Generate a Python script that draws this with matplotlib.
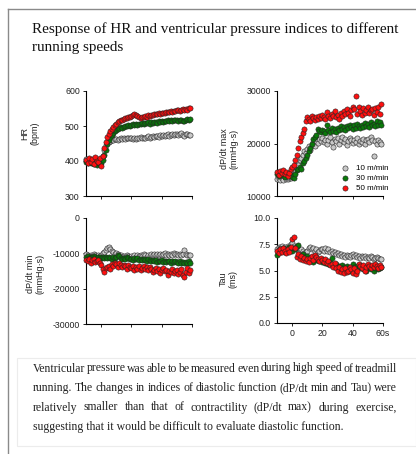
import matplotlib
matplotlib.use('Agg')
import matplotlib.pyplot as plt
import numpy as np
from matplotlib.patches import Rectangle
from matplotlib.lines import Line2D
from matplotlib.font_manager import FontProperties
from matplotlib.textpath import TextPath

# time axis (s), one sample per second
t = np.arange(-10, 60)

speeds = ['10m/min', '30m/min', '50m/min']
colors = ['#c8c8c8', '#0a7a0a', '#ff1010']

hr_10 = [405, 400, 398, 402, 396, 400, 404, 398, 401, 399,
         403, 415, 432, 445, 452, 455, 458, 460, 460, 462,
         463, 461, 464, 465, 463, 466, 464, 465, 467, 465,
         466, 464, 465, 463, 466, 465, 468, 466, 467, 465,
         468, 470, 467, 469, 471, 468, 470, 472, 469, 473,
         471, 474, 470, 473, 476, 472, 475, 477, 474, 478,
         476, 473, 477, 479, 475, 472, 478, 476, 474, 475]
hr_30 = [398, 395, 400, 393, 397, 392, 396, 390, 394, 392,
         395, 402, 418, 432, 448, 460, 468, 475, 480, 485,
         488, 490, 494, 496, 495, 498, 500, 499, 502, 501,
         503, 505, 502, 506, 504, 507, 505, 508, 506, 509,
         508, 510, 507, 511, 509, 512, 510, 508, 513, 511,
         514, 512, 515, 513, 516, 514, 517, 515, 518, 516,
         517, 514, 516, 518, 515, 513, 517, 519, 518, 521]
hr_50 = [402, 395, 410, 398, 405, 392, 412, 400, 396, 408,
         386, 415, 438, 455, 468, 478, 486, 492, 498, 503,
         507, 510, 513, 516, 518, 520, 522, 524, 525, 527,
         529, 531, 533, 530, 528, 526, 524, 527, 525, 528,
         527, 530, 529, 532, 531, 534, 533, 535, 536, 534,
         537, 538, 536, 540, 539, 541, 543, 540, 544, 542,
         545, 547, 544, 546, 548, 545, 549, 547, 550, 551]

dpmax_10 = [13200, 13500, 13000, 13400, 13100, 13600, 13300, 13200, 13500, 13400,
            13800, 14200, 14800, 15300, 16000, 16800, 17300, 17800, 18500, 18200,
            19000, 19500, 18700, 19800, 20300, 19600, 20500, 20100, 20800, 20400,
            21000, 20200, 20600, 19900, 20700, 21200, 20300, 19400, 20900, 20500,
            21100, 20000, 20600, 21300, 20200, 20800, 19700, 20400, 21000, 20600,
            20100, 20700, 20300, 21000, 19900, 20500, 20200, 20800, 20000, 20600,
            20900, 20300, 21200, 20700, 17700, 20400, 19900, 20600, 20300, 20000]
dpmax_30 = [14200, 13800, 14500, 14000, 14400, 13700, 14100, 14300, 13900, 14000,
            13600, 13400, 14200, 14900, 15200, 15600, 15100, 16200, 16700, 17300,
            17800, 18500, 19200, 20000, 20800, 21200, 21600, 22700, 22400, 22100,
            22600, 22300, 22000, 23600, 22500, 22200, 22900, 22400, 22700, 22100,
            23000, 22600, 23300, 22800, 23100, 22500, 23400, 22900, 23600, 23200,
            22700, 23500, 23000, 23800, 23300, 22900, 23600, 23100, 23900, 23400,
            23700, 23200, 24000, 23500, 23800, 23300, 24200, 23600, 24100, 23500]
dpmax_50 = [14500, 14000, 14800, 14300, 15000, 14200, 14600, 13900, 14400, 15100,
            15500, 16000, 16800, 17800, 19200, 20500, 21300, 22000, 22800, 24300,
            25000, 24600, 24300, 25200, 24800, 24400, 25000, 24600, 25300, 24900,
            25400, 25100, 24700, 26000, 25300, 24900, 25600, 25200, 26200, 25000,
            25500, 24700, 25800, 25300, 26100, 25600, 26500, 25900, 25200, 26300,
            27000, 26600, 29000, 25700, 26900, 26200, 25500, 26700, 25900, 26400,
            26900, 25800, 26300, 26600, 25400, 26800, 26000, 27000, 25600, 27500]

dpmin_10 = [-10200, -10500, -10800, -10400, -10700, -10300, -10600, -10900, -10500, -10700,
            -10400, -10000, -9600, -9000, -8600, -8300, -8800, -9200, -9700, -10200,
            -9800, -10300, -10600, -10400, -10900, -10700, -11000, -10600, -10800, -11100,
            -10700, -10900, -10500, -11000, -10600, -10800, -10400, -10700, -10300, -10500,
            -10900, -10400, -10700, -10200, -10600, -10300, -10500, -10100, -10400, -10200,
            -10600, -10300, -10000, -10400, -10100, -10500, -10200, -10400, -10000, -10300,
            -10200, -10500, -10100, -10400, -10300, -9000, -10200, -10500, -10400, -10600]
dpmin_30 = [-11000, -10800, -11200, -10900, -11100, -10800, -11000, -11300, -10900, -11100,
            -11200, -11000, -11300, -11100, -11400, -10900, -11200, -11500, -11100, -11300,
            -11000, -10600, -10800, -11200, -11500, -11300, -11600, -11100, -11400, -11700,
            -11500, -11800, -11300, -11600, -11400, -11900, -11700, -12000, -11600, -11800,
            -12100, -11700, -12000, -12300, -11900, -12200, -12000, -12400, -12100, -12300,
            -12000, -12400, -12200, -12500, -12300, -12100, -12600, -12300, -12500, -12200,
            -12400, -12700, -12300, -12600, -12400, -12800, -12500, -12700, -12300, -12600]
dpmin_50 = [-11800, -12300, -11500, -12600, -12000, -11700, -12400, -12200, -11900, -12800,
            -13300, -14500, -15400, -14200, -13800, -13600, -14300, -12900, -13500, -12600,
            -13100, -13900, -12800, -13400, -14000, -13200, -13700, -14500, -13300, -13800,
            -14200, -13500, -14600, -13900, -14300, -13700, -14800, -14100, -13600, -14400,
            -14000, -14700, -13800, -14300, -15300, -14600, -14100, -15000, -14400, -15500,
            -14800, -14200, -15100, -14600, -16200, -14900, -15400, -14400, -15700, -15000,
            -14600, -15900, -15300, -14500, -16100, -16700, -15200, -14200, -15600, -14800]

tau_10 = [7.0, 7.2, 7.1, 7.3, 7.0, 7.2, 7.1, 7.3, 7.2, 7.5,
          7.6, 7.3, 7.1, 7.0, 6.9, 6.8, 7.0, 6.9, 6.7, 6.8,
          6.9, 7.1, 7.2, 7.0, 7.1, 6.9, 7.0, 6.8, 6.9, 7.0,
          7.0, 6.9, 7.1, 6.9, 7.0, 6.8, 6.9, 6.7, 6.8, 6.6,
          6.7, 6.5, 6.6, 6.4, 6.5, 6.3, 6.5, 6.4, 6.3, 6.5,
          6.6, 6.4, 6.5, 6.3, 6.4, 6.2, 6.4, 6.3, 6.4, 6.2,
          6.3, 6.2, 6.4, 6.3, 6.1, 6.2, 6.3, 6.2, 6.1, 6.1]
tau_30 = [6.5, 6.8, 7.0, 6.9, 7.1, 6.8, 7.0, 6.9, 7.2, 7.0,
          6.9, 7.1, 7.0, 7.3, 7.4, 6.5, 6.4, 6.6, 6.3, 6.2,
          6.4, 6.1, 6.0, 6.3, 5.8, 6.2, 6.0, 6.1, 5.9, 6.0,
          5.8, 6.0, 5.7, 5.9, 5.6, 5.8, 6.2, 5.5, 5.4, 5.6,
          5.3, 5.4, 5.2, 5.5, 5.3, 5.1, 5.4, 5.2, 5.0, 5.3,
          5.6, 5.3, 5.1, 5.4, 5.2, 5.5, 5.3, 5.1, 5.2, 5.0,
          5.2, 5.4, 5.1, 5.3, 5.0, 5.2, 5.4, 5.1, 5.2, 5.3]
tau_50 = [6.9, 6.7, 7.0, 6.8, 7.1, 6.9, 6.7, 7.0, 6.8, 7.2,
          8.0, 8.2, 7.1, 6.3, 6.6, 6.1, 6.4, 6.0, 6.2, 5.9,
          6.1, 5.8, 6.2, 6.4, 6.0, 6.5, 6.3, 6.1, 5.9, 6.2,
          6.0, 5.8, 6.1, 5.7, 5.9, 5.5, 5.6, 5.3, 5.7, 5.2,
          5.0, 5.3, 4.9, 5.1, 4.8, 5.2, 4.9, 5.0, 5.3, 5.1,
          4.8, 5.2, 4.7, 5.0, 5.6, 5.4, 5.2, 5.5, 5.0, 5.3,
          5.6, 5.4, 5.2, 5.5, 5.3, 5.6, 5.4, 5.2, 5.5, 5.3]

title_lines = ["Response of HR and ventricular pressure indices to different",
               "running speeds"]
para_lines = ["Ventricular pressure was able to be measured even during high speed of treadmill",
              "running. The changes in indices of diastolic function (dP/dt min and Tau) were",
              "relatively smaller than that of contractility (dP/dt max) during exercise,",
              "suggesting that it would be difficult to evaluate diastolic function."]

W, H = 416, 454
fig = plt.figure(figsize=(W / 100, H / 100), dpi=100)
fig.patch.set_facecolor('white')

def px(x, y):
    return x / W, 1 - y / H

# page borders
fig.add_artist(Line2D([8 / W, 8 / W], [0, 1 - 9 / H], color='#8a8a8a', lw=1.0))
fig.add_artist(Line2D([8 / W, 1], [1 - 9 / H, 1 - 9 / H], color='#8a8a8a', lw=1.0))
fig.add_artist(Rectangle(px(17, 446), (W - 17) / W, 88 / H, fill=False,
                         edgecolor='#ececec', lw=0.8))

serif = 'Liberation Serif'
sans = 'Liberation Sans'
for i, line in enumerate(title_lines):
    fig.text(*px(32, 33 + 18.5 * i), line, family=serif, fontsize=10.9,
             va='baseline', ha='left', color='#111111')

panels = [
    dict(rect=(86, 91, 106, 105), data=(hr_10, hr_30, hr_50), ylim=(300, 600),
         ticks=[300, 400, 500, 600], labels=['300', '400', '500', '600'],
         ylabel='HR\n(bpm)', lab=(-0.44, 0.6), xlab=False),
    dict(rect=(277, 91, 106, 105), data=(dpmax_10, dpmax_30, dpmax_50), ylim=(10000, 30000),
         ticks=[10000, 20000, 30000], labels=['10000', '20000', '30000'],
         ylabel='dP/dt max\n(mmHg\u00b7s)', lab=(-0.36, 0.45), xlab=False),
    dict(rect=(86, 218, 106, 106), data=(dpmin_10, dpmin_30, dpmin_50), ylim=(-30000, 0),
         ticks=[-30000, -20000, -10000, 0], labels=['-30000', '-20000', '-10000', '0'],
         ylabel='dP/dt min\n(mmHg\u00b7s)', lab=(-0.39, 0.47), xlab=False),
    dict(rect=(277, 218, 106, 105), data=(tau_10, tau_30, tau_50), ylim=(0, 10),
         ticks=[0, 2.5, 5, 7.5, 10], labels=['0.0', '2.5', '5.0', '7.5', '10.0'],
         ylabel='Tau\n(ms)', lab=(-0.37, 0.42), xlab=True),
]

axes = []
for p in panels:
    x0, y0, w, h = p['rect']
    ax = fig.add_axes([x0 / W, 1 - (y0 + h) / H, w / W, h / H])
    for vals, c, name in zip(p['data'], colors, speeds):
        ax.scatter(t, vals, s=14, color=c, edgecolors='#222222', linewidths=0.4,
                   label=name.replace('m/', ' m/'), zorder=3, clip_on=False)
    ax.set_xlim(-10, 60)
    ax.set_ylim(*p['ylim'])
    ax.set_xticks([0, 20, 40, 60])
    if p['xlab']:
        ax.set_xticklabels(['0', '20', '40', '60s'])
    else:
        ax.set_xticklabels([])
    ax.set_yticks(p['ticks'])
    ax.set_yticklabels(p['labels'])
    for s in ['top', 'right']:
        ax.spines[s].set_visible(False)
    for s in ['left', 'bottom']:
        ax.spines[s].set_linewidth(0.8)
    ax.tick_params(direction='out', length=2.5, width=0.7, labelsize=6.3,
                   pad=2, colors='#222222')
    for lbl in ax.get_xticklabels() + ax.get_yticklabels():
        lbl.set_family(sans)
    ax.set_ylabel(p['ylabel'], family=sans, fontsize=6.5, linespacing=1.1, color='#222222')
    ax.yaxis.set_label_coords(*p['lab'])
    axes.append(ax)

leg = axes[1].legend(loc='lower left', bbox_to_anchor=(0.56, -0.02), frameon=False,
                     fontsize=5.8, handlelength=0.8, handletextpad=0.9,
                     labelspacing=0.3, borderpad=0.2)
for txt in leg.get_texts():
    txt.set_family(sans)

# justified paragraph: word widths from glyph advances (points -> pixels)
left, right = 33, 397
fs = 8.5
prop = FontProperties(family=serif, size=fs)

def word_width(word):
    # advance width of the word in pixels at 100 dpi
    both = TextPath((0, 0), word + '|', prop=prop).get_extents().x1
    bar = TextPath((0, 0), '|', prop=prop).get_extents().x1
    return (both - bar) * 100 / 72

for i, line in enumerate(para_lines):
    yb = 371.5 + 19.5 * i
    if i == len(para_lines) - 1:
        fig.text(*px(left, yb), line, family=serif, fontsize=fs, va='baseline',
                 color='#222222')
        continue
    words = line.split()
    widths = [word_width(wd) for wd in words]
    gap = (right - left - sum(widths)) / (len(words) - 1)
    x = left
    for wd, wdt in zip(words, widths):
        fig.text(x / W, 1 - yb / H, wd, family=serif, fontsize=fs, va='baseline',
                 color='#222222')
        x += wdt + gap

fig.savefig('out.png', dpi=100)
